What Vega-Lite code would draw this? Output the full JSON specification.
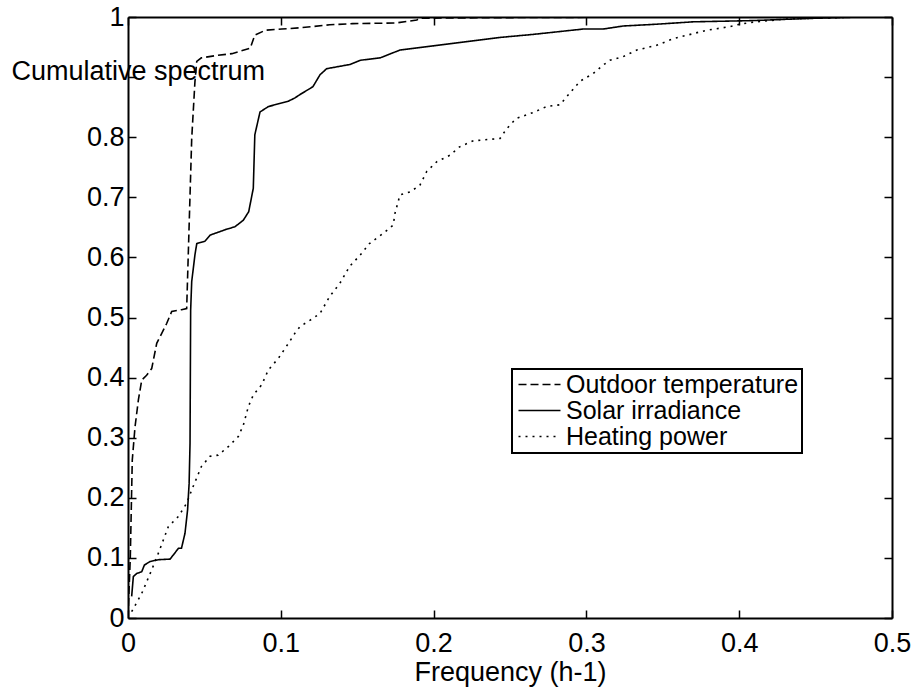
{
  "$schema": "https://vega.github.io/schema/vega-lite/v6.json",
  "width": 764,
  "height": 601,
  "autosize": "none",
  "padding": {"left": 128, "top": 17, "right": 24, "bottom": 70},
  "background": "white",
  "config": {
    "view": {"stroke": null},
    "font": "Liberation Sans",
    "axis": {"grid": false, "domainColor": "black", "domainWidth": 2, "tickColor": "black", "tickWidth": 1.5, "tickSize": -8, "labelColor": "black", "titleColor": "black", "labelFont": "Liberation Sans", "titleFont": "Liberation Sans", "labelFontSize": 27, "titleFontSize": 27, "titleFontWeight": "normal"}
  },
  "data": {"values": [
    {"s": "Outdoor temperature", "f": 0, "v": 0},
    {"s": "Outdoor temperature", "f": 0.0015, "v": 0.1},
    {"s": "Outdoor temperature", "f": 0.0028, "v": 0.263},
    {"s": "Outdoor temperature", "f": 0.0046, "v": 0.318},
    {"s": "Outdoor temperature", "f": 0.0068, "v": 0.363},
    {"s": "Outdoor temperature", "f": 0.009, "v": 0.396},
    {"s": "Outdoor temperature", "f": 0.0122, "v": 0.404},
    {"s": "Outdoor temperature", "f": 0.0155, "v": 0.415},
    {"s": "Outdoor temperature", "f": 0.0188, "v": 0.457},
    {"s": "Outdoor temperature", "f": 0.0253, "v": 0.49},
    {"s": "Outdoor temperature", "f": 0.0286, "v": 0.51},
    {"s": "Outdoor temperature", "f": 0.035, "v": 0.513},
    {"s": "Outdoor temperature", "f": 0.0384, "v": 0.515},
    {"s": "Outdoor temperature", "f": 0.0417, "v": 0.798},
    {"s": "Outdoor temperature", "f": 0.0438, "v": 0.892},
    {"s": "Outdoor temperature", "f": 0.045, "v": 0.926},
    {"s": "Outdoor temperature", "f": 0.048, "v": 0.932},
    {"s": "Outdoor temperature", "f": 0.058, "v": 0.936},
    {"s": "Outdoor temperature", "f": 0.068, "v": 0.939},
    {"s": "Outdoor temperature", "f": 0.08, "v": 0.948},
    {"s": "Outdoor temperature", "f": 0.083, "v": 0.97},
    {"s": "Outdoor temperature", "f": 0.09, "v": 0.978},
    {"s": "Outdoor temperature", "f": 0.1006, "v": 0.98},
    {"s": "Outdoor temperature", "f": 0.1125, "v": 0.982},
    {"s": "Outdoor temperature", "f": 0.132, "v": 0.987},
    {"s": "Outdoor temperature", "f": 0.147, "v": 0.989},
    {"s": "Outdoor temperature", "f": 0.175, "v": 0.99},
    {"s": "Outdoor temperature", "f": 0.189, "v": 0.995},
    {"s": "Outdoor temperature", "f": 0.191, "v": 0.998},
    {"s": "Outdoor temperature", "f": 0.25, "v": 0.999},
    {"s": "Outdoor temperature", "f": 0.35, "v": 1.0},
    {"s": "Outdoor temperature", "f": 0.48, "v": 1.0},
    {"s": "Solar irradiance", "f": 0.0024, "v": 0.036},
    {"s": "Solar irradiance", "f": 0.0035, "v": 0.069},
    {"s": "Solar irradiance", "f": 0.0057, "v": 0.074},
    {"s": "Solar irradiance", "f": 0.009, "v": 0.077},
    {"s": "Solar irradiance", "f": 0.0107, "v": 0.088},
    {"s": "Solar irradiance", "f": 0.0144, "v": 0.094},
    {"s": "Solar irradiance", "f": 0.0199, "v": 0.097},
    {"s": "Solar irradiance", "f": 0.0275, "v": 0.098},
    {"s": "Solar irradiance", "f": 0.0297, "v": 0.105},
    {"s": "Solar irradiance", "f": 0.033, "v": 0.116},
    {"s": "Solar irradiance", "f": 0.035, "v": 0.116},
    {"s": "Solar irradiance", "f": 0.0373, "v": 0.141},
    {"s": "Solar irradiance", "f": 0.039, "v": 0.18},
    {"s": "Solar irradiance", "f": 0.04, "v": 0.224},
    {"s": "Solar irradiance", "f": 0.0406, "v": 0.291},
    {"s": "Solar irradiance", "f": 0.041, "v": 0.512},
    {"s": "Solar irradiance", "f": 0.0417, "v": 0.56},
    {"s": "Solar irradiance", "f": 0.0438, "v": 0.604},
    {"s": "Solar irradiance", "f": 0.045, "v": 0.623},
    {"s": "Solar irradiance", "f": 0.0504, "v": 0.627},
    {"s": "Solar irradiance", "f": 0.0537, "v": 0.637},
    {"s": "Solar irradiance", "f": 0.0635, "v": 0.646},
    {"s": "Solar irradiance", "f": 0.07, "v": 0.651},
    {"s": "Solar irradiance", "f": 0.0755, "v": 0.662},
    {"s": "Solar irradiance", "f": 0.079, "v": 0.676},
    {"s": "Solar irradiance", "f": 0.082, "v": 0.715},
    {"s": "Solar irradiance", "f": 0.083, "v": 0.804},
    {"s": "Solar irradiance", "f": 0.0864, "v": 0.842},
    {"s": "Solar irradiance", "f": 0.0919, "v": 0.851},
    {"s": "Solar irradiance", "f": 0.105, "v": 0.86},
    {"s": "Solar irradiance", "f": 0.109, "v": 0.865},
    {"s": "Solar irradiance", "f": 0.1126, "v": 0.871},
    {"s": "Solar irradiance", "f": 0.121, "v": 0.884},
    {"s": "Solar irradiance", "f": 0.1257, "v": 0.904},
    {"s": "Solar irradiance", "f": 0.13, "v": 0.914},
    {"s": "Solar irradiance", "f": 0.1453, "v": 0.921},
    {"s": "Solar irradiance", "f": 0.152, "v": 0.928},
    {"s": "Solar irradiance", "f": 0.165, "v": 0.932},
    {"s": "Solar irradiance", "f": 0.178, "v": 0.945},
    {"s": "Solar irradiance", "f": 0.2, "v": 0.952},
    {"s": "Solar irradiance", "f": 0.2216, "v": 0.959},
    {"s": "Solar irradiance", "f": 0.2435, "v": 0.966},
    {"s": "Solar irradiance", "f": 0.265, "v": 0.971},
    {"s": "Solar irradiance", "f": 0.287, "v": 0.977},
    {"s": "Solar irradiance", "f": 0.298, "v": 0.98},
    {"s": "Solar irradiance", "f": 0.311, "v": 0.98},
    {"s": "Solar irradiance", "f": 0.324, "v": 0.985},
    {"s": "Solar irradiance", "f": 0.346, "v": 0.988},
    {"s": "Solar irradiance", "f": 0.37, "v": 0.992},
    {"s": "Solar irradiance", "f": 0.409, "v": 0.994},
    {"s": "Solar irradiance", "f": 0.429, "v": 0.996},
    {"s": "Solar irradiance", "f": 0.4507, "v": 0.998},
    {"s": "Solar irradiance", "f": 0.48, "v": 1.0},
    {"s": "Heating power", "f": 0.0024, "v": 0.0105},
    {"s": "Heating power", "f": 0.009, "v": 0.041},
    {"s": "Heating power", "f": 0.0155, "v": 0.08},
    {"s": "Heating power", "f": 0.0199, "v": 0.108},
    {"s": "Heating power", "f": 0.0264, "v": 0.152},
    {"s": "Heating power", "f": 0.033, "v": 0.169},
    {"s": "Heating power", "f": 0.0384, "v": 0.191},
    {"s": "Heating power", "f": 0.0417, "v": 0.213},
    {"s": "Heating power", "f": 0.048, "v": 0.252},
    {"s": "Heating power", "f": 0.0537, "v": 0.269},
    {"s": "Heating power", "f": 0.059, "v": 0.271},
    {"s": "Heating power", "f": 0.0656, "v": 0.285},
    {"s": "Heating power", "f": 0.0722, "v": 0.302},
    {"s": "Heating power", "f": 0.0755, "v": 0.321},
    {"s": "Heating power", "f": 0.0788, "v": 0.352},
    {"s": "Heating power", "f": 0.082, "v": 0.371},
    {"s": "Heating power", "f": 0.0875, "v": 0.388},
    {"s": "Heating power", "f": 0.0919, "v": 0.413},
    {"s": "Heating power", "f": 0.0984, "v": 0.432},
    {"s": "Heating power", "f": 0.105, "v": 0.457},
    {"s": "Heating power", "f": 0.1093, "v": 0.474},
    {"s": "Heating power", "f": 0.1126, "v": 0.485},
    {"s": "Heating power", "f": 0.1213, "v": 0.499},
    {"s": "Heating power", "f": 0.1257, "v": 0.507},
    {"s": "Heating power", "f": 0.132, "v": 0.535},
    {"s": "Heating power", "f": 0.1387, "v": 0.557},
    {"s": "Heating power", "f": 0.145, "v": 0.585},
    {"s": "Heating power", "f": 0.152, "v": 0.604},
    {"s": "Heating power", "f": 0.158, "v": 0.623},
    {"s": "Heating power", "f": 0.167, "v": 0.64},
    {"s": "Heating power", "f": 0.1736, "v": 0.654},
    {"s": "Heating power", "f": 0.1747, "v": 0.673},
    {"s": "Heating power", "f": 0.178, "v": 0.704},
    {"s": "Heating power", "f": 0.1846, "v": 0.709},
    {"s": "Heating power", "f": 0.191, "v": 0.72},
    {"s": "Heating power", "f": 0.1955, "v": 0.743},
    {"s": "Heating power", "f": 0.202, "v": 0.759},
    {"s": "Heating power", "f": 0.2107, "v": 0.77},
    {"s": "Heating power", "f": 0.217, "v": 0.784},
    {"s": "Heating power", "f": 0.226, "v": 0.794},
    {"s": "Heating power", "f": 0.2435, "v": 0.798},
    {"s": "Heating power", "f": 0.2478, "v": 0.814},
    {"s": "Heating power", "f": 0.254, "v": 0.831},
    {"s": "Heating power", "f": 0.265, "v": 0.841},
    {"s": "Heating power", "f": 0.274, "v": 0.851},
    {"s": "Heating power", "f": 0.2827, "v": 0.854},
    {"s": "Heating power", "f": 0.287, "v": 0.867},
    {"s": "Heating power", "f": 0.2958, "v": 0.893},
    {"s": "Heating power", "f": 0.3045, "v": 0.906},
    {"s": "Heating power", "f": 0.311, "v": 0.92},
    {"s": "Heating power", "f": 0.3154, "v": 0.928},
    {"s": "Heating power", "f": 0.324, "v": 0.934},
    {"s": "Heating power", "f": 0.333, "v": 0.945},
    {"s": "Heating power", "f": 0.346, "v": 0.953},
    {"s": "Heating power", "f": 0.357, "v": 0.964},
    {"s": "Heating power", "f": 0.3787, "v": 0.978},
    {"s": "Heating power", "f": 0.394, "v": 0.984},
    {"s": "Heating power", "f": 0.4005, "v": 0.988},
    {"s": "Heating power", "f": 0.411, "v": 0.992},
    {"s": "Heating power", "f": 0.433, "v": 0.997},
    {"s": "Heating power", "f": 0.451, "v": 0.998},
    {"s": "Heating power", "f": 0.48, "v": 1.0}
  ]},
  "resolve": {"axis": {"x": "independent", "y": "independent"}},
  "layer": [
    {
      "mark": {"type": "line", "color": "black", "strokeWidth": 1.6, "clip": true},
      "encoding": {
        "x": {"field": "f", "type": "quantitative", "scale": {"domain": [0, 0.5], "nice": false, "zero": false},
          "axis": {"orient": "bottom", "values": [0, 0.1, 0.2, 0.3, 0.4, 0.5], "format": "~g", "labelPadding": 20, "title": "Frequency (h-1)", "titlePadding": 3, "labelFlush": false}},
        "y": {"field": "v", "type": "quantitative", "scale": {"domain": [0, 1], "nice": false, "zero": false},
          "axis": {"orient": "left", "values": [0, 0.1, 0.2, 0.3, 0.4, 0.5, 0.6, 0.7, 0.8, 0.9, 1], "format": "~g", "labelExpr": "abs(datum.value - 0.9) < 0.001 ? '' : datum.label", "labelPadding": 12, "labelFlush": false, "title": "Cumulative spectrum", "titleAngle": 0, "titleAlign": "left", "titleBaseline": "middle", "titleX": -117, "titleY": 54}},
        "strokeDash": {"field": "s", "type": "nominal",
          "scale": {"domain": ["Outdoor temperature", "Solar irradiance", "Heating power"], "range": [[8, 4], [1, 0], [2, 5]]},
          "legend": {"orient": "none", "legendX": 384, "legendY": 352, "title": null, "strokeColor": "black", "fillColor": "white", "padding": 3, "symbolType": "M-2,0H2", "symbolSize": 441, "symbolOffset": 12, "symbolStrokeWidth": 1.5, "symbolStrokeColor": "black", "labelFontSize": 25, "labelColor": "black", "labelFont": "Liberation Sans", "labelOffset": 14, "labelLimit": 500, "rowPadding": 0,
            "encode": {"legend": {"update": {"strokeWidth": {"value": 2}}}}}
        }
      }
    },
    {
      "mark": {"type": "line", "opacity": 0},
      "encoding": {
        "x": {"field": "f", "type": "quantitative", "axis": {"orient": "top", "values": [0, 0.1, 0.2, 0.3, 0.4, 0.5], "labels": false, "title": null}},
        "y": {"field": "v", "type": "quantitative", "axis": {"orient": "right", "values": [0, 0.1, 0.2, 0.3, 0.4, 0.5, 0.6, 0.7, 0.8, 0.9, 1], "labels": false, "title": null}},
        "detail": {"field": "s", "type": "nominal"}
      }
    }
  ]
}
